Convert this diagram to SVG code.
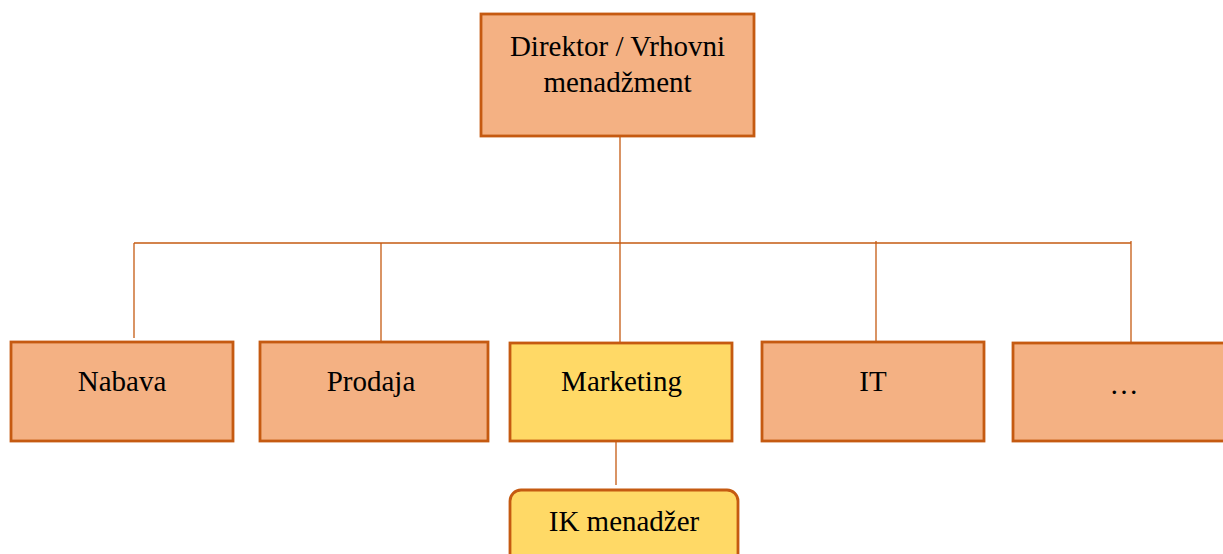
<svg xmlns="http://www.w3.org/2000/svg" width="1223" height="554" viewBox="0 0 1223 554">
<style>
.box{fill:#F4B183;stroke:#C55A11;stroke-width:2.8}
.hl{fill:#FFD966;stroke:#C55A11;stroke-width:2.8}
.t{font-family:'Liberation Serif','Times New Roman',serif;font-size:29px;fill:#000;text-anchor:middle}
.c{stroke:#C55A11;stroke-width:1.3;fill:none}
</style>
<rect width="1223" height="554" fill="#fff"/>
<g id="connectors">
<line class="c" x1="620" y1="137" x2="620" y2="342"/>
<line class="c" x1="134" y1="243" x2="1131" y2="243"/>
<line class="c" x1="134" y1="243" x2="134" y2="338"/>
<line class="c" x1="381" y1="243" x2="381" y2="343"/>
<line class="c" x1="876" y1="241" x2="876" y2="342"/>
<line class="c" x1="1131" y1="241" x2="1131" y2="342"/>
<line class="c" x1="616" y1="441" x2="616" y2="485"/>
</g>
<g id="director">
<rect class="box" x="481" y="14" width="273" height="122"/>
<text class="t" x="617.5" y="56">Direktor / Vrhovni</text>
<text class="t" x="617.5" y="92">menadžment</text>
</g>
<g id="nabava">
<rect class="box" x="11" y="342" width="222" height="99"/>
<text class="t" x="122" y="391">Nabava</text>
</g>
<g id="prodaja">
<rect class="box" x="260" y="342" width="228" height="99"/>
<text class="t" x="371" y="391">Prodaja</text>
</g>
<g id="marketing">
<rect class="hl" x="510" y="343" width="222" height="98"/>
<text class="t" x="621.5" y="391">Marketing</text>
</g>
<g id="it">
<rect class="box" x="762" y="342" width="222" height="99"/>
<text class="t" x="873" y="391">IT</text>
</g>
<g id="more">
<rect class="box" x="1013" y="343" width="222" height="98"/>
<text class="t" x="1124" y="394">…</text>
</g>
<g id="ik">
<rect class="hl" x="510" y="490" width="228" height="80" rx="11"/>
<text class="t" x="624" y="531">IK menadžer</text>
</g>
</svg>
